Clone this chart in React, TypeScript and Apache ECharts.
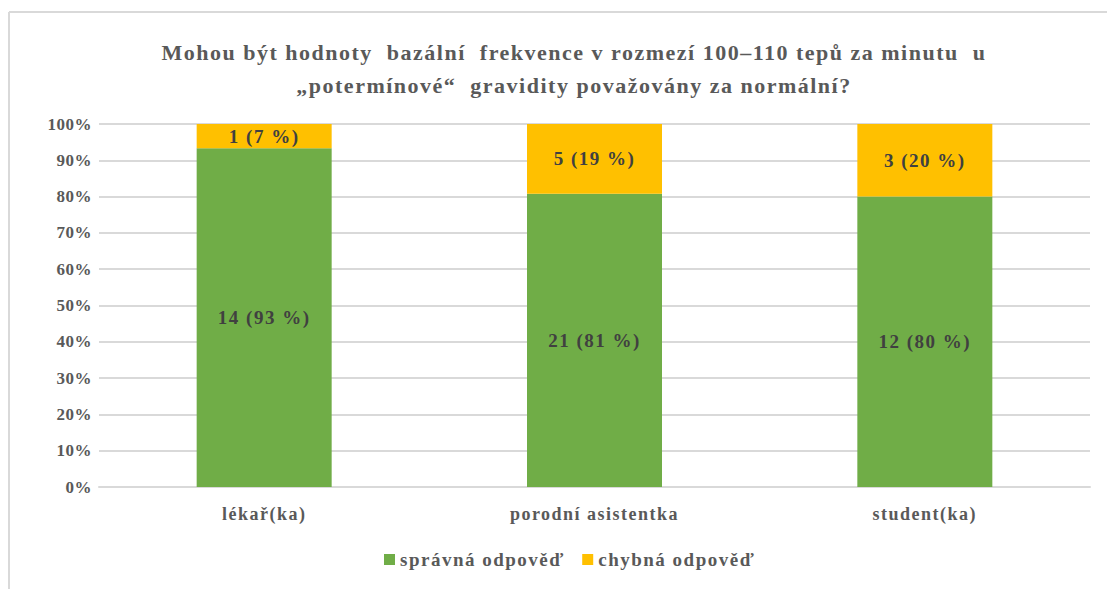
import React, { useEffect, useRef } from "react";
import * as echarts from "echarts";

const categories = ["lékař(ka)", "porodní asistentka", "student(ka)"];
const correctCounts = [14, 21, 12];
const wrongCounts = [1, 5, 3];
const correctPctLabels = [93, 81, 80];
const wrongPctLabels = [7, 19, 20];
const seriesNames = ["správná odpověď", "chybná odpověď"];
const yTicks = [0, 10, 20, 30, 40, 50, 60, 70, 80, 90, 100];

export default function App() {
  const ref = useRef<HTMLDivElement>(null);
  useEffect(() => {
    if (!ref.current) return;
    const chart = echarts.init(ref.current, undefined, { renderer: "svg" });
    const totals = correctCounts.map((c, i) => c + wrongCounts[i]);
    const correctShare = correctCounts.map((c, i) => (c / totals[i]) * 100);
    const wrongShare = wrongCounts.map((c, i) => (c / totals[i]) * 100);
    const font = "Liberation Serif";
    chart.setOption({
      animation: false,
      backgroundColor: "#ffffff",
      title: {
        text: "Mohou být hodnoty  bazální  frekvence v rozmezí 100–110 tepů za minutu  u\n„potermínové“  gravidity považovány za normální?",
        left: 569,
        top: 31,
        textAlign: "center",
        textStyle: {
          fontFamily: font,
          fontWeight: "bold",
          fontSize: 22,
          color: "#595959",
          lineHeight: 33,
        },
      },
      legend: {
        bottom: 15,
        left: 379,
        itemWidth: 11,
        itemHeight: 11,
        itemGap: 40,
        icon: "rect",
        textStyle: {
          fontFamily: font,
          fontWeight: "bold",
          fontSize: 19,
          color: "#595959",
        },
        data: seriesNames,
      },
      grid: { left: 99, right: 17, top: 124, bottom: 102 },
      xAxis: {
        type: "category",
        data: categories,
        axisTick: { show: false },
        axisLine: { lineStyle: { color: "#d9d9d9", width: 2 } },
        axisLabel: {
          margin: 18,
          fontFamily: font,
          fontWeight: "bold",
          fontSize: 18,
          color: "#595959",
        },
      },
      yAxis: {
        type: "value",
        min: 0,
        max: 100,
        interval: 10,
        axisLabel: {
          margin: 7,
          fontFamily: font,
          fontWeight: "bold",
          fontSize: 17,
          color: "#595959",
          formatter: (v: number) => (yTicks.includes(v) ? v + "%" : ""),
        },
        splitLine: { lineStyle: { color: "#d9d9d9", width: 2 } },
        axisLine: { show: false },
        axisTick: { show: false },
      },
      series: [
        {
          name: seriesNames[0],
          type: "bar",
          stack: "t",
          barWidth: 135,
          data: correctShare,
          itemStyle: { color: "#70AD47" },
          label: {
            show: true,
            position: "inside",
            fontFamily: font,
            fontWeight: "bold",
            fontSize: 19,
            color: "#404040",
            formatter: (p: any) =>
              `${correctCounts[p.dataIndex]} (${correctPctLabels[p.dataIndex]} %)`,
          },
        },
        {
          name: seriesNames[1],
          type: "bar",
          stack: "t",
          barWidth: 135,
          data: wrongShare,
          itemStyle: { color: "#FFC000" },
          label: {
            show: true,
            position: "inside",
            fontFamily: font,
            fontWeight: "bold",
            fontSize: 19,
            color: "#404040",
            formatter: (p: any) =>
              `${wrongCounts[p.dataIndex]} (${wrongPctLabels[p.dataIndex]} %)`,
          },
        },
      ],
      graphic: [
        {
          type: "line",
          shape: { x1: 9, y1: 12, x2: 1107, y2: 12 },
          style: { stroke: "#d9d9d9", lineWidth: 2 },
        },
        {
          type: "line",
          shape: { x1: 9, y1: 12, x2: 9, y2: 589 },
          style: { stroke: "#d9d9d9", lineWidth: 2 },
        },
      ],
    });
    return () => chart.dispose();
  }, []);
  return (
    <>
      <style>{`#chartbox text { letter-spacing: 1.5px; } #chartbox text[style*="17px"] { letter-spacing: 0.5px; }`}</style>
      <div
        id="chartbox"
        ref={ref}
        style={{ position: "absolute", left: 0, top: 0, width: 1107, height: 589 }}
      />
    </>
  );
}
